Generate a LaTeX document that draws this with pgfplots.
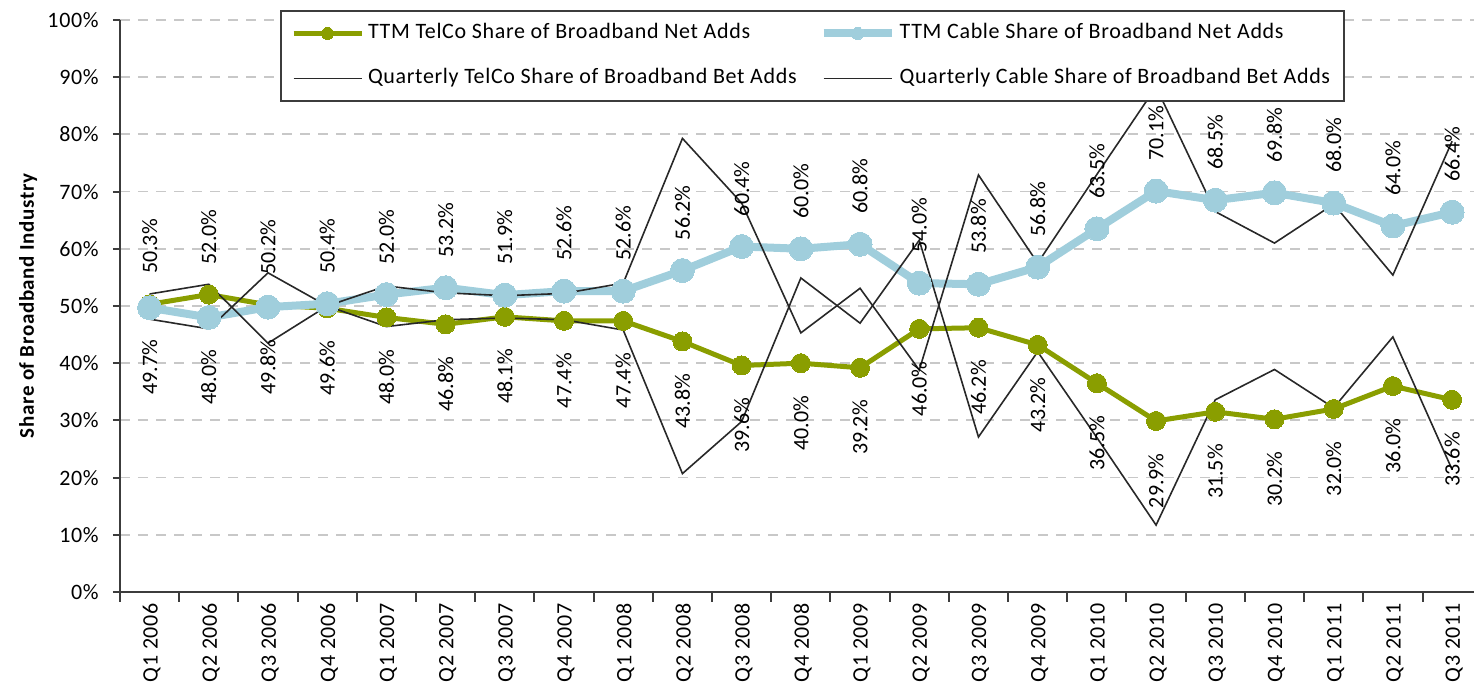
\documentclass[border=0pt]{standalone}
\usepackage{fontspec}
\setmainfont{Carlito}
\newfontfamily\lsfont[LetterSpace=3]{Carlito}
\usepackage{pgfplots}
\pgfplotsset{compat=1.18}
\definecolor{telco}{RGB}{138,158,0}
\definecolor{cable}{RGB}{160,206,220}
\definecolor{axisgray}{RGB}{60,60,60}
\definecolor{gridgray}{RGB}{200,200,200}
\definecolor{qline}{RGB}{40,40,40}
\newcommand{\fs}[1]{\fontsize{#1}{#1}\selectfont}
\begin{document}
\begin{tikzpicture}
\path[use as bounding box] (0,0) rectangle (737pt,345.5pt);
\begin{axis}[
  at={(60pt,49.5pt)}, anchor=south west,
  scale only axis, width=677pt, height=286pt,
  xmin=-0.5, xmax=22.37, ymin=0, ymax=100,
  clip=false,
  axis x line*=bottom, axis y line*=left,
  axis line style={-, draw=axisgray, line width=1pt},
  /pgf/number format/assume math mode=true,
  ytick={0,10,...,100},
  yticklabel={\pgfmathprintnumber{\tick}\%},
  yticklabel style={font=\lsfont\fs{11}, inner sep=2pt, xshift=-5pt},
  ymajorgrids, grid style={gridgray, line width=0.9pt, dash pattern=on 5pt off 4pt},
  tick align=outside,
  major tick length=3.5pt,
  tick style={draw=axisgray, line width=1pt},
  xtick={0,...,22},
  xticklabels={Q1 2006,Q2 2006,Q3 2006,Q4 2006,Q1 2007,Q2 2007,Q3 2007,Q4 2007,Q1 2008,Q2 2008,Q3 2008,Q4 2008,Q1 2009,Q2 2009,Q3 2009,Q4 2009,Q1 2010,Q2 2010,Q3 2010,Q4 2010,Q1 2011,Q2 2011,Q3 2011},
  xticklabel style={rotate=90, anchor=east, font=\lsfont\fs{11}, inner sep=2pt, yshift=-1pt},
  major x tick style={draw=none},
  minor xtick={-0.5,0.5,...,21.5},
  minor x tick style={draw=axisgray, line width=1pt},
  minor tick length=5pt,
  every axis y label/.style={at={(axis description cs:-0.0679,0.5)}, rotate=90, anchor=center},
  ylabel={\bfseries Share of Broadband Industry},
  ylabel style={font=\lsfont\fs{10.5}},
  legend columns=2,
  legend cell align=left,
  legend style={at={(axis description cs:0.1182,1.0175)}, anchor=north west,
    draw=axisgray, line width=1pt, fill=white, font=\lsfont\fs{11},
    inner xsep=5pt, inner ysep=4pt, row sep=8pt,
    nodes={text height=8pt, text depth=2.5pt, inner sep=2pt},
    /tikz/every even column/.append style={column sep=9.5pt}},
  legend image code/.code={\draw[mark repeat=2,mark phase=2,#1,mark size=3pt] plot coordinates {(0pt,0pt) (17pt,0pt) (34pt,0pt)};},
]
% TTM TelCo
\addplot[telco, line width=2.5pt, mark=*, mark size=4.75pt, mark options={draw=telco, fill=telco, line width=0pt}] coordinates {
(0,50.3) (1,52.0) (2,50.2) (3,49.6) (4,48.0) (5,46.8) (6,48.1) (7,47.4) (8,47.4) (9,43.8) (10,39.6) (11,40.0)
(12,39.2) (13,46.0) (14,46.2) (15,43.2) (16,36.5) (17,29.9) (18,31.5) (19,30.2) (20,32.0) (21,36.0) (22,33.6)};
\addlegendentry{TTM TelCo Share of Broadband Net Adds}
% TTM Cable
\addplot[cable, line width=4pt, mark=*, mark size=6pt, mark options={draw=cable, fill=cable, line width=0pt}] coordinates {
(0,49.7) (1,48.0) (2,49.8) (3,50.4) (4,52.0) (5,53.2) (6,51.9) (7,52.6) (8,52.6) (9,56.2) (10,60.4) (11,60.0)
(12,60.8) (13,54.0) (14,53.8) (15,56.8) (16,63.5) (17,70.1) (18,68.5) (19,69.8) (20,68.0) (21,64.0) (22,66.4)};
\addlegendentry{TTM Cable Share of Broadband Net Adds}
% Quarterly TelCo
\addplot[qline, line width=0.8pt, mark=none] coordinates {
(0,52.1) (1,53.8) (2,43.5) (3,50.0) (4,46.4) (5,47.6) (6,47.9) (7,47.6) (8,45.8) (9,20.7) (10,29.8) (11,54.9)
(12,47.0) (13,61.5) (14,27.1) (15,42.0) (16,27.0) (17,11.7) (18,33.6) (19,38.9) (20,32.2) (21,44.6) (22,21.4)};
\addlegendentry{Quarterly TelCo Share of Broadband Bet Adds}
% Quarterly Cable
\addplot[qline, line width=0.8pt, mark=none] coordinates {
(0,47.7) (1,46.0) (2,55.8) (3,50.0) (4,53.5) (5,52.3) (6,51.8) (7,52.2) (8,54.0) (9,79.3) (10,68.0) (11,45.3)
(12,53.1) (13,38.8) (14,72.9) (15,57.5) (16,73.0) (17,88.3) (18,66.5) (19,61.0) (20,67.8) (21,55.4) (22,78.8)};
\addlegendentry{Quarterly Cable Share of Broadband Bet Adds}
% data labels above (larger share)
\addplot[draw=none, mark=none, forget plot, point meta=y,
  nodes near coords={\pgfmathprintnumber[fixed,fixed zerofill,precision=1]{\pgfplotspointmeta}\%},
  every node near coord/.style={yshift=15pt, rotate=90, anchor=west, inner sep=0pt, font=\fs{11}, text=black}] coordinates {
(0,50.3) (1,52.0) (2,50.2) (3,50.4) (4,52.0) (5,53.2) (6,51.9) (7,52.6) (8,52.6) (9,56.2) (10,60.4) (11,60.0)
(12,60.8) (13,54.0) (14,53.8) (15,56.8) (16,63.5) (17,70.1) (18,68.5) (19,69.8) (20,68.0) (21,64.0) (22,66.4)};
% data labels below (smaller share)
\addplot[draw=none, mark=none, forget plot, point meta=y,
  nodes near coords={\pgfmathprintnumber[fixed,fixed zerofill,precision=1]{\pgfplotspointmeta}\%},
  every node near coord/.style={yshift=-16pt, rotate=90, anchor=east, inner sep=0pt, font=\fs{11}, text=black}] coordinates {
(0,49.7) (1,48.0) (2,49.8) (3,49.6) (4,48.0) (5,46.8) (6,48.1) (7,47.4) (8,47.4) (9,43.8) (10,39.6) (11,40.0)
(12,39.2) (13,46.0) (14,46.2) (15,43.2) (16,36.5) (17,29.9) (18,31.5) (19,30.2) (20,32.0) (21,36.0) (22,33.6)};
\end{axis}
\end{tikzpicture}
\end{document}
